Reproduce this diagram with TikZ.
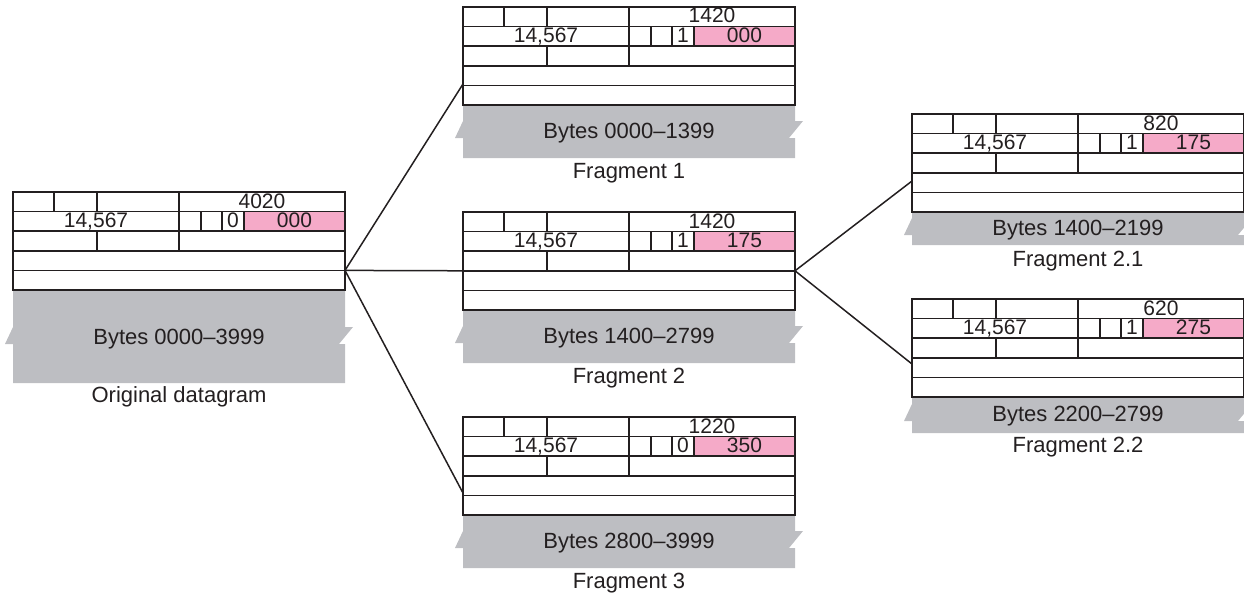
\documentclass[tikz,border=0pt]{standalone}
\usepackage{fontspec}
\setmainfont{Liberation Sans}
\usetikzlibrary{calc}
\definecolor{pinkf}{RGB}{245,170,200}
\definecolor{grayf}{RGB}{189,190,194}
\definecolor{ink}{RGB}{35,31,32}
\tikzset{
  cell/.style={draw=ink, line width=1.5pt},
  num/.style={anchor=base, inner sep=0pt, text=ink, font=\fontsize{21}{21}\selectfont},
  lbl/.style={anchor=base, inner sep=0pt, text=ink, font=\fontsize{22}{22}\selectfont},
  link/.style={draw=ink, line width=1.5pt},
  hdrbox/.style={draw=ink, line width=1.5pt, minimum width=332pt, minimum height=98pt,
    inner sep=0pt, outer sep=0pt, anchor=north west},
}
% header: name, L, T, total length, MF flag, offset
\newcommand\dghead[6]{%
  \fill[pinkf] ({#2+231},{#3+19.6}) rectangle ({#2+332},{#3+39.2});
  \node[hdrbox] (#1) at (#2,#3) {};
  \foreach \kk in {1,2,3,4} {\draw[cell] (#2,{#3+19.6*\kk}) -- ({#2+332},{#3+19.6*\kk});}
  \draw[cell] ({#2+41},#3) -- ({#2+41},{#3+19.6});
  \draw[cell] ({#2+84},#3) -- ({#2+84},{#3+19.6});
  \draw[cell] ({#2+166},#3) -- ({#2+166},{#3+58.8});
  \draw[cell] ({#2+84},{#3+39.2}) -- ({#2+84},{#3+58.8});
  \foreach \xx in {188,209,231} {\draw[cell] ({#2+\xx},{#3+19.6}) -- ({#2+\xx},{#3+39.2});}
  \node[num] (#1-len) at ({#2+249},{#3+16}) {#4};
  \node[num] (#1-id) at ({#2+83},{#3+35.6}) {14,567};
  \node[num] (#1-mf) at ({#2+220},{#3+35.6}) {#5};
  \node[num] (#1-off) at ({#2+281.5},{#3+35.6}) {#6};
}
% gray body: name, L, top, bottom, text baseline, text
\newcommand\dgbody[6]{%
  \fill[grayf] (#2,#3) -- ({#2+332},#3) -- ({#2+332},{#5-17}) -- ({#2+340},{#5-17})
    -- ({#2+326},#5) -- ({#2+332},#5) -- ({#2+332},#4) -- (#2,#4) -- (#2,#5)
    -- ({#2-8},#5) -- (#2,{#5-17}) -- cycle;
  \node[lbl] (#1-bytes) at ({#2+166},#5) {#6};
}
\begin{document}
\begin{tikzpicture}[x=1pt,y=-1pt]
\useasboundingbox (0,0) rectangle (1244,594);
% original
\dgbody{o}{13}{290}{383}{344}{Bytes 0000--3999}
\dghead{o}{13}{192}{4020}{0}{000}
\node[lbl] (o-cap) at (179,402) {Original datagram};
% fragment 1
\dgbody{f1}{463}{105}{158}{138}{Bytes 0000--1399}
\dghead{f1}{463}{7}{1420}{1}{000}
\node[lbl] (f1-cap) at (629,178) {Fragment 1};
% fragment 2
\dgbody{f2}{463}{310}{363}{343}{Bytes 1400--2799}
\dghead{f2}{463}{212}{1420}{1}{175}
\node[lbl] (f2-cap) at (629,383) {Fragment 2};
% fragment 3
\dgbody{f3}{463}{515}{568}{548}{Bytes 2800--3999}
\dghead{f3}{463}{417}{1220}{0}{350}
\node[lbl] (f3-cap) at (629,588) {Fragment 3};
% fragment 2.1
\dgbody{f21}{912}{212}{245}{235}{Bytes 1400--2199}
\dghead{f21}{912}{114}{820}{1}{175}
\node[lbl] (f21-cap) at (1078,266) {Fragment 2.1};
% fragment 2.2
\dgbody{f22}{912}{397}{433}{421}{Bytes 2200--2799}
\dghead{f22}{912}{299}{620}{1}{275}
\node[lbl] (f22-cap) at (1078,452) {Fragment 2.2};
% connectors
\coordinate (o-out) at ($(o.north east)+(0,78.4)$);
\coordinate (f1-in) at ($(f1.north west)+(0,77)$);
\coordinate (f2-in) at ($(f2.north west)+(0,58.8)$);
\coordinate (f3-in) at ($(f3.north west)+(0,76)$);
\coordinate (f2-out) at ($(f2.north east)+(0,58.8)$);
\coordinate (f21-in) at ($(f21.north west)+(0,67)$);
\coordinate (f22-in) at ($(f22.north west)+(0,65)$);
\draw[link] (o-out) -- (f1-in);
\draw[link] (o-out) -- (f2-in);
\draw[link] (o-out) -- (f3-in);
\draw[link] (f2-out) -- (f21-in);
\draw[link] (f2-out) -- (f22-in);
\end{tikzpicture}
\end{document}
